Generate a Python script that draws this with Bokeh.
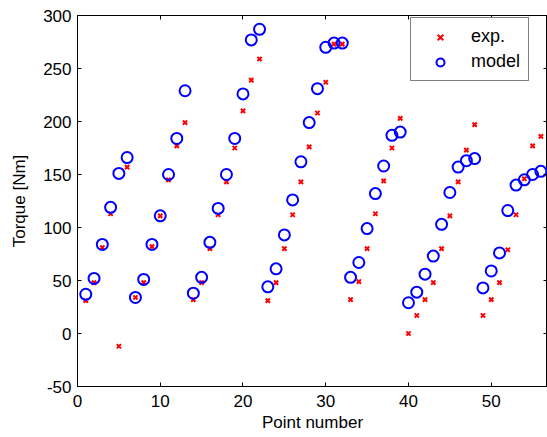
from bokeh.plotting import figure
from bokeh.models import ColumnDataSource, LinearAxis, Range1d, FixedTicker, Legend, LegendItem
from bokeh.embed import file_html
from bokeh.resources import INLINE

point = list(range(1, 57))
exp_torque = [31, 48, 81, 113, -12, 157, 34, 48, 82, 111,
              145, 177, 199, 32, 48, 80, 112, 143, 175, 210,
              239, 259, 31, 48, 80, 112, 143, 176, 208, 237,
              273, 273, 32, 49, 80, 113, 144, 175, 203, 0,
              17, 32, 48, 80, 111, 143, 173, 197, 17, 32,
              48, 79, 112, 146, 177, 186]
model_torque = [37, 52, 84, 119, 151, 166, 34, 51, 84, 111,
                150, 184, 229, 38, 53, 86, 118, 150, 184, 226,
                277, 287, 44, 61, 93, 126, 162, 199, 231, 270,
                274, 274, 53, 67, 99, 132, 158, 187, 190, 29,
                39, 56, 73, 103, 133, 157, 163, 165, 43, 59,
                76, 116, 140, 145, 150, 153]
x_ticks = [0, 10, 20, 30, 40, 50]
y_ticks = [-50, 0, 50, 100, 150, 200, 250, 300]
y_tick_labels = {t: str(t) for t in y_ticks}

FONT = "Liberation Sans"
FS = "17px"

src = ColumnDataSource(dict(x=point, exp=exp_torque, model=model_torque))

p = figure(width=547, height=437, output_backend="svg", toolbar_location=None,
           x_range=Range1d(0, 56.8), y_range=Range1d(-50, 300),
           min_border_left=77, min_border_top=15, min_border_right=0, min_border_bottom=51)
p.background_fill_color = "white"
p.border_fill_color = "white"
p.outline_line_color = "black"
p.outline_line_width = 1
p.xgrid.visible = False
p.ygrid.visible = False

r_exp = p.scatter("x", "exp", source=src, marker="x", size=6, line_width=2, line_color="#ff0000")
r_mod = p.scatter("x", "model", source=src, marker="circle", size=11, line_width=2,
                  line_color="#0000ff", fill_color=None)

def style_axis(ax, ticks, show_labels):
    ax.ticker = FixedTicker(ticks=ticks)
    ax.minor_tick_line_color = None
    ax.major_tick_in = 4
    ax.major_tick_out = 0
    ax.axis_line_color = "black"
    ax.major_tick_line_color = "black"
    ax.major_label_text_font = FONT
    if show_labels:
        ax.major_label_text_font_size = FS
        ax.major_label_text_color = "black"
    else:
        ax.major_label_text_font_size = "1px"
        ax.major_label_text_color = None
        ax.major_label_standoff = 0

style_axis(p.xaxis[0], x_ticks, True)
style_axis(p.yaxis[0], y_ticks, True)
p.yaxis[0].major_label_overrides = y_tick_labels
p.xaxis[0].major_label_standoff = 8
p.yaxis[0].major_label_standoff = 6
p.xaxis[0].axis_label = "Point number"
p.yaxis[0].axis_label = "Torque [Nm]"
for ax in (p.xaxis[0], p.yaxis[0]):
    ax.axis_label_text_font = FONT
    ax.axis_label_text_font_size = FS
    ax.axis_label_text_font_style = "normal"
    ax.axis_label_text_color = "black"
p.xaxis[0].axis_label_standoff = 3
p.yaxis[0].axis_label_standoff = 11

top_ax = LinearAxis()
style_axis(top_ax, x_ticks, False)
p.add_layout(top_ax, "above")
right_ax = LinearAxis()
style_axis(right_ax, y_ticks, False)
p.add_layout(right_ax, "right")

legend = Legend(items=[LegendItem(label="exp.", renderers=[r_exp]),
                       LegendItem(label="model", renderers=[r_mod])],
                location=(333, 305))
legend.border_line_color = "black"
legend.border_line_width = 1
legend.background_fill_color = "white"
legend.background_fill_alpha = 1
legend.label_text_font = FONT
legend.label_text_font_size = "18px"
legend.label_text_color = "black"
legend.padding = 8
legend.spacing = 4
legend.glyph_width = 42
legend.glyph_height = 20
legend.label_height = 20
legend.label_standoff = 10
legend.margin = 0
p.add_layout(legend, "center")

open("out.html", "w").write(file_html(p, INLINE))
